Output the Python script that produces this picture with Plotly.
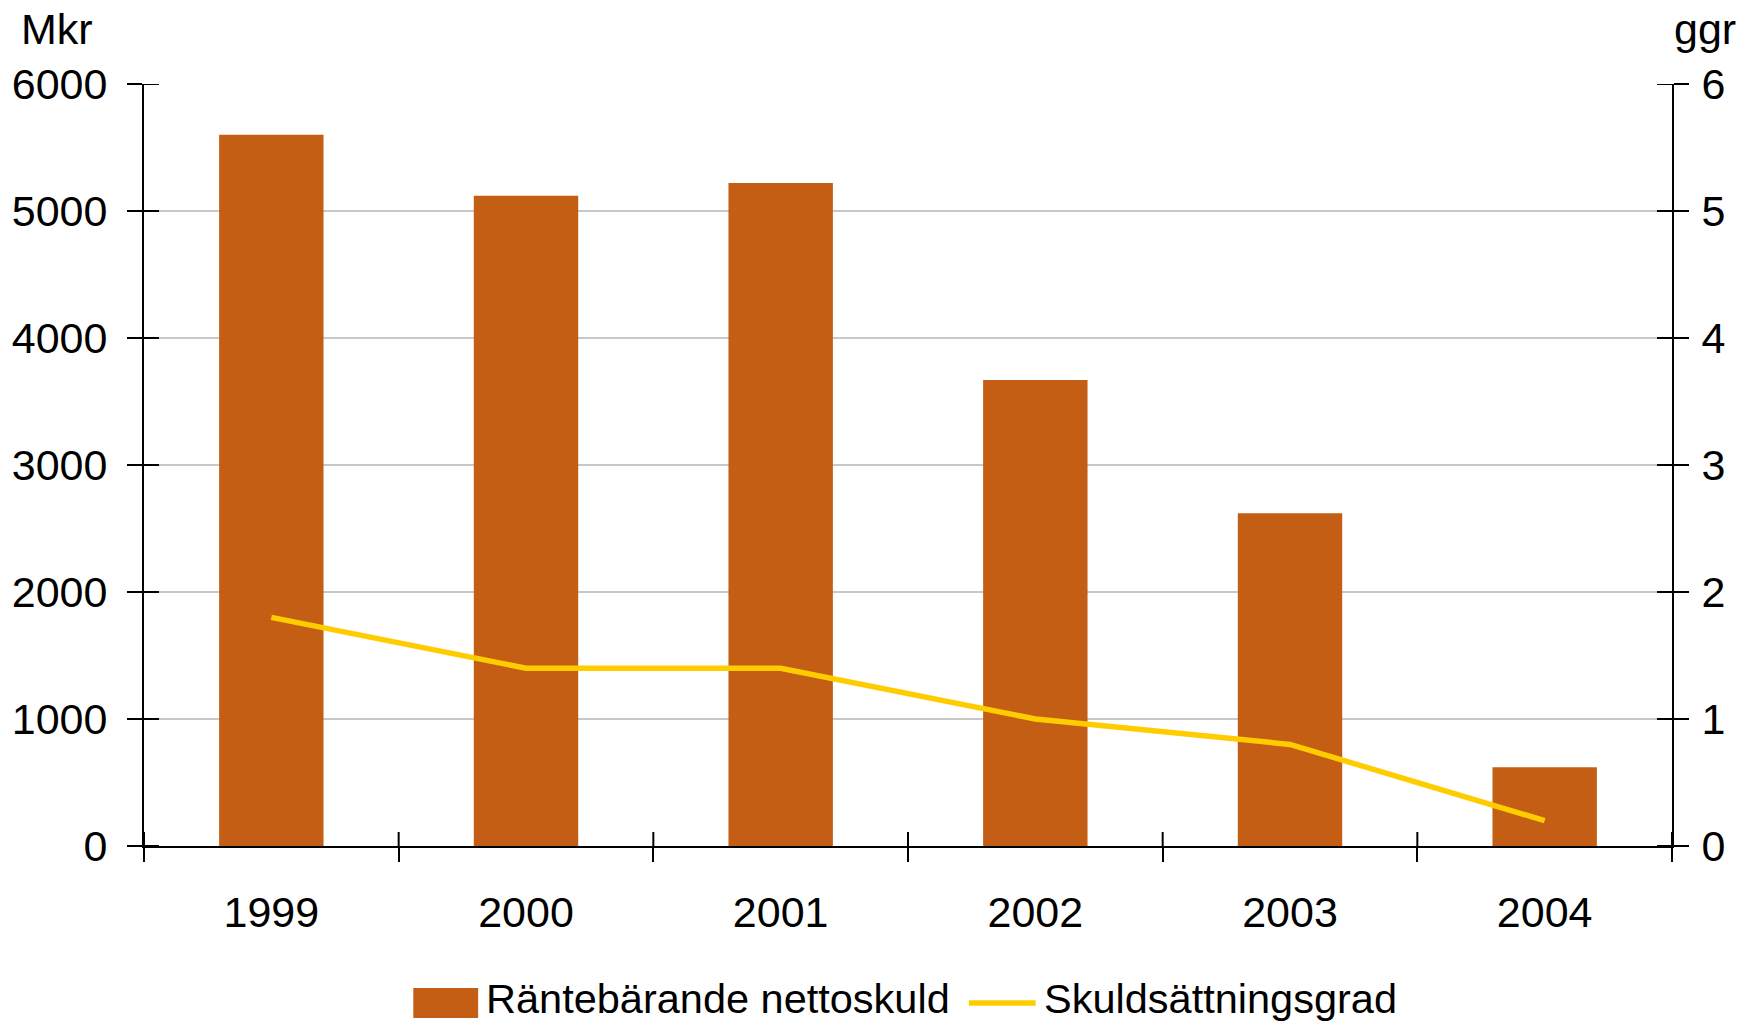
import plotly.graph_objects as go

# Data
years = ["1999", "2000", "2001", "2002", "2003", "2004"]
nettoskuld = [5600, 5120, 5220, 3670, 2620, 620]          # Mkr
skuldsattningsgrad = [1.8, 1.4, 1.4, 1.0, 0.8, 0.2]       # ggr

left_ticks = [0, 1000, 2000, 3000, 4000, 5000, 6000]
right_ticks = [0, 1, 2, 3, 4, 5, 6]

BAR_COLOR = "#C45E14"
LINE_COLOR = "#FFCC00"
FONT = "Liberation Sans, Arial, sans-serif"
FS = 43

W, H = 1754, 1025
L, R, T, B = 140, 82, 84, 179
PW, PH = W - L - R, H - T - B

fig = go.Figure()

fig.add_trace(go.Bar(
    x=years, y=nettoskuld, name="Räntebärande nettoskuld",
    marker=dict(color=BAR_COLOR, line=dict(width=0)),
    width=0.41, yaxis="y", xaxis="x",
))
fig.add_trace(go.Scatter(
    x=years, y=skuldsattningsgrad, name="Skuldsättningsgrad",
    mode="lines", line=dict(color=LINE_COLOR, width=5.5),
    yaxis="y2", xaxis="x",
))

axis_font = dict(family=FONT, size=FS, color="black")
legend_font = dict(family=FONT, size=41.5, color="black")

fig.update_layout(
    width=W, height=H,
    margin=dict(l=L, r=R, t=T, b=B),
    paper_bgcolor="white", plot_bgcolor="white",
    showlegend=False,
    font=axis_font,
    xaxis=dict(
        type="category", range=[-0.5, 5.5],
        categoryarray=years, categoryorder="array",
        tickson="boundaries", ticks="outside", ticklen=14, tickwidth=2, tickcolor="black",
        showline=True, linecolor="black", linewidth=2,
        showgrid=False, zeroline=False, layer="above traces",
        tickfont=axis_font, ticklabelstandoff=27,
    ),
    yaxis=dict(
        range=[0, 6000], tickvals=left_ticks,
        ticks="outside", ticklen=15, tickwidth=2, tickcolor="black",
        showline=True, linecolor="black", linewidth=2,
        showgrid=True, gridcolor="#C8C8C8", gridwidth=2,
        zeroline=False, tickfont=axis_font, ticklabelstandoff=11,
    ),
    yaxis2=dict(
        range=[0, 6], tickvals=right_ticks, overlaying="y", side="right",
        ticks="outside", ticklen=15, tickwidth=2, tickcolor="black",
        showline=True, linecolor="black", linewidth=2,
        showgrid=False, zeroline=False, tickfont=axis_font, ticklabelstandoff=4,
    ),
)

tick_line = dict(color="black", width=2)

# Inward halves of the crossing tick marks
for v in left_ticks:
    fig.add_shape(type="line", xref="paper", yref="y", xsizemode="pixel", xanchor=0,
                  x0=0, x1=15, y0=v, y1=v, line=tick_line)
for v in right_ticks:
    fig.add_shape(type="line", xref="paper", yref="y2", xsizemode="pixel", xanchor=1,
                  x0=-15, x1=0, y0=v, y1=v, line=tick_line)
for i in range(len(years) + 1):
    b = i - 0.5
    fig.add_shape(type="line", xref="x", yref="paper", ysizemode="pixel", yanchor=0,
                  x0=b, x1=b, y0=0, y1=14, line=tick_line)


def px_x(v):
    return (v - L) / PW


def px_y(v):
    return (H - B - v) / PH


# Axis unit titles
fig.add_annotation(text="Mkr", xref="paper", yref="paper", x=px_x(15), y=px_y(29),
                   xanchor="left", yanchor="middle", showarrow=False, font=axis_font)
fig.add_annotation(text="ggr", xref="paper", yref="paper", x=px_x(1672), y=px_y(29),
                   xanchor="left", yanchor="middle", showarrow=False, font=axis_font)

# Legend drawn below the plot
fig.add_shape(type="rect", xref="paper", yref="paper",
              x0=px_x(410), x1=px_x(475), y0=px_y(1018), y1=px_y(988),
              fillcolor=BAR_COLOR, line=dict(width=0))
fig.add_annotation(text="Räntebärande nettoskuld", xref="paper", yref="paper",
                   x=px_x(481), y=px_y(998), xanchor="left", yanchor="middle",
                   showarrow=False, font=legend_font)
fig.add_shape(type="line", xref="paper", yref="paper",
              x0=px_x(967), x1=px_x(1034), y0=px_y(1003), y1=px_y(1003),
              line=dict(color=LINE_COLOR, width=5.5))
fig.add_annotation(text="Skuldsättningsgrad", xref="paper", yref="paper",
                   x=px_x(1040), y=px_y(998), xanchor="left", yanchor="middle",
                   showarrow=False, font=legend_font)

fig.write_html("out.html")
